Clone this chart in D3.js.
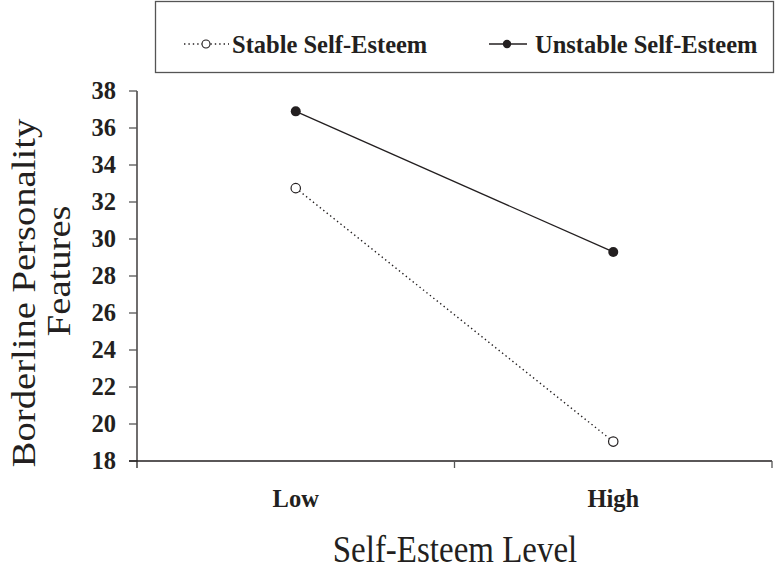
<!DOCTYPE html>
<html>
<head>
    <script src="https://cdnjs.cloudflare.com/ajax/libs/d3/7.8.5/d3.min.js"></script>
    <style>
        body, html {
            margin: 0;
            padding: 0;
            background: #fff;
            overflow: hidden;
        }
        svg {
            display: block;
        }
        text {
            font-family: "Liberation Serif", "Times New Roman", serif;
            fill: #231f20;
        }
        .tick-label {
            font-size: 24.5px;
            font-weight: bold;
        }
        .axis-title {
            font-size: 33px;
        }
        .legend-label {
            font-size: 24.5px;
            font-weight: bold;
        }
    </style>
</head>
<body>
    <svg></svg>
    <script>
        const width = 776;
        const height = 573;

        // data
        const levels = ["Low", "High"];
        const stableValues = [32.75, 19.05];
        const unstableValues = [36.9, 29.3];
        const yTicks = [18, 20, 22, 24, 26, 28, 30, 32, 34, 36, 38];
        const seriesNames = ["Stable Self-Esteem", "Unstable Self-Esteem"];

        const svg = d3.select("svg")
            .attr("width", width)
            .attr("height", height);

        const x = d3.scaleBand()
            .domain(levels)
            .range([137, 772])
            .padding(0);

        const y = d3.scaleLinear()
            .domain([18, 38])
            .range([461, 91]);

        const ink = "#231f20";

        // y axis
        svg.append("line")
            .attr("x1", 137).attr("x2", 137)
            .attr("y1", y(38)).attr("y2", y(18) + 7)
            .attr("stroke", ink).attr("stroke-width", 1.3);

        svg.append("g")
            .selectAll("line")
            .data(yTicks)
            .join("line")
            .attr("x1", 129).attr("x2", 137)
            .attr("y1", d => y(d)).attr("y2", d => y(d))
            .attr("stroke", "#555").attr("stroke-width", 1.3);

        svg.append("g")
            .selectAll("text")
            .data(yTicks)
            .join("text")
            .attr("class", "tick-label")
            .attr("x", 116)
            .attr("y", d => y(d))
            .attr("dy", "0.33em")
            .attr("text-anchor", "end")
            .text(d => d);

        // x axis
        svg.append("line")
            .attr("x1", 129).attr("x2", 772)
            .attr("y1", y(18)).attr("y2", y(18))
            .attr("stroke", ink).attr("stroke-width", 1.3);

        const xEdges = levels.map(d => x(d)).concat([x(levels[levels.length - 1]) + x.bandwidth()]);
        svg.append("g")
            .selectAll("line")
            .data(xEdges.slice(1))
            .join("line")
            .attr("x1", d => d).attr("x2", d => d)
            .attr("y1", y(18)).attr("y2", y(18) + 7)
            .attr("stroke", "#555").attr("stroke-width", 1.3);

        svg.append("g")
            .selectAll("text")
            .data(levels)
            .join("text")
            .attr("class", "tick-label")
            .attr("x", d => x(d) + x.bandwidth() / 2)
            .attr("y", 507)
            .attr("text-anchor", "middle")
            .text(d => d);

        // axis titles (source figure is a little stretched vertically)
        svg.append("text")
            .attr("class", "axis-title")
            .attr("transform", "translate(455,562) scale(1,1.12)")
            .attr("text-anchor", "middle")
            .text("Self-Esteem Level");

        const yTitle = svg.append("text")
            .attr("class", "axis-title")
            .attr("transform", "translate(35,293) rotate(-90) scale(1.17,1)")
            .attr("text-anchor", "middle");
        yTitle.append("tspan").attr("x", 0).attr("y", 0).text("Borderline Personality");
        yTitle.append("tspan").attr("x", 19).attr("y", 35).text("Features");

        // lines
        const line = d3.line()
            .x((d, i) => x(levels[i]) + x.bandwidth() / 2)
            .y(d => y(d));

        svg.append("path")
            .datum(stableValues)
            .attr("d", line)
            .attr("fill", "none")
            .attr("stroke", ink)
            .attr("stroke-width", 1.4)
            .attr("stroke-dasharray", "1.4,3");

        svg.append("path")
            .datum(unstableValues)
            .attr("d", line)
            .attr("fill", "none")
            .attr("stroke", ink)
            .attr("stroke-width", 1.3);

        svg.append("g")
            .selectAll("circle")
            .data(stableValues)
            .join("circle")
            .attr("cx", (d, i) => x(levels[i]) + x.bandwidth() / 2)
            .attr("cy", d => y(d))
            .attr("r", 4.7)
            .attr("fill", "#fff")
            .attr("stroke", ink)
            .attr("stroke-width", 1.2);

        svg.append("g")
            .selectAll("circle")
            .data(unstableValues)
            .join("circle")
            .attr("cx", (d, i) => x(levels[i]) + x.bandwidth() / 2)
            .attr("cy", d => y(d))
            .attr("r", 5)
            .attr("fill", ink);

        // legend
        svg.append("rect")
            .attr("x", 155.5).attr("y", 1.5)
            .attr("width", 618).attr("height", 71)
            .attr("fill", "none")
            .attr("stroke", "#555")
            .attr("stroke-width", 1.3);

        const legend = svg.append("g");
        const legendY = 44;

        legend.append("line")
            .attr("x1", 184).attr("x2", 229)
            .attr("y1", legendY).attr("y2", legendY)
            .attr("stroke", ink).attr("stroke-width", 1.4)
            .attr("stroke-dasharray", "1.4,3");
        legend.append("circle")
            .attr("cx", 206).attr("cy", legendY).attr("r", 4)
            .attr("fill", "#fff").attr("stroke", ink).attr("stroke-width", 1.1);

        legend.append("line")
            .attr("x1", 489).attr("x2", 527)
            .attr("y1", legendY).attr("y2", legendY)
            .attr("stroke", ink).attr("stroke-width", 1.4);
        legend.append("circle")
            .attr("cx", 507).attr("cy", legendY).attr("r", 4.2)
            .attr("fill", ink);

        const legendTextX = [232, 535];
        legend.selectAll("text")
            .data(seriesNames)
            .join("text")
            .attr("class", "legend-label")
            .attr("x", (d, i) => legendTextX[i])
            .attr("y", legendY)
            .attr("dy", "0.35em")
            .text(d => d);
    </script>
</body>
</html>
